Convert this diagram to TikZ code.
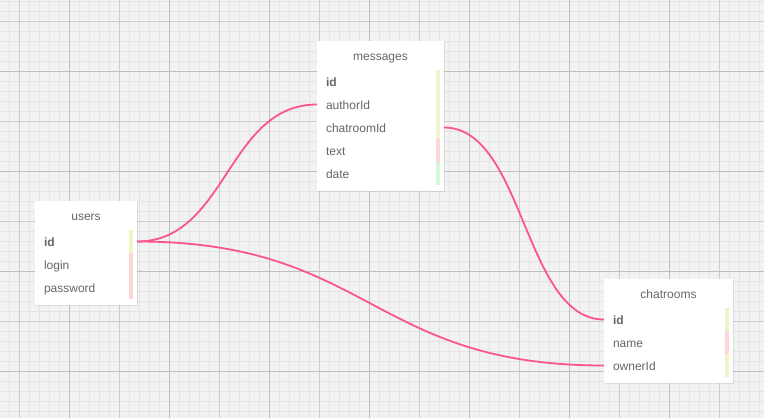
\documentclass[tikz,border=0pt]{standalone}
\usepackage{fontspec}
\setmainfont{Liberation Sans}
\usetikzlibrary{positioning,shadows}
\definecolor{gridbg}{RGB}{242,242,242}
\definecolor{gridminor}{RGB}{228,228,228}
\definecolor{gridmajor}{RGB}{204,204,204}
\definecolor{griddark}{RGB}{190,190,190}
\definecolor{linkpink}{RGB}{250,85,140}
\definecolor{keyyellow}{RGB}{241,243,200}
\definecolor{keypink}{RGB}{253,214,218}
\definecolor{keygreen}{RGB}{214,247,216}
\definecolor{fieldgray}{RGB}{102,102,102}

\begin{document}
\begin{tikzpicture}[
      x=1pt, y=-1pt,
      every node/.style={font=\fontsize{12}{14}\selectfont, text=fieldgray},
      tablebox/.style 2 args={fill=white, anchor=north west, minimum width=#1, minimum height=#2, inner sep=0pt, outer sep=0pt,
        drop shadow={shadow xshift=0.6pt, shadow yshift=-1pt, opacity=0.18}},
      tabletitle/.style={minimum height=29pt, inner sep=0pt, outer sep=0pt, text height=11pt, text depth=1pt},
      field/.style={text width=#1, align=left, inner xsep=9pt, inner ysep=0pt, minimum height=23pt, outer sep=0pt, text height=11pt, text depth=1pt},
      keyfield/.style={field=#1, font=\fontsize{12}{14}\selectfont\bfseries},
      keystrip/.style={fill=#1},
      link/.style={draw=linkpink, line width=1.8pt}
  ]
    \useasboundingbox (0,0) rectangle (764,418);
    % grid paper
    \fill[gridbg] (0,0) rectangle (764,418);
    \foreach \x in {9,19,...,759} \draw[gridminor, line width=1pt] (\x,0) -- (\x,418);
    \foreach \y in {1,11,...,411} \draw[gridminor, line width=1pt] (0,\y) -- (764,\y);
    \foreach \x in {19,119,...,719} \draw[gridmajor, line width=1pt] (\x,0) -- (\x,418);
    \foreach \y in {21,121,...,321} \draw[gridmajor, line width=1pt] (0,\y) -- (764,\y);
    \foreach \x in {69,169,...,669} \draw[griddark, line width=1pt] (\x,0) -- (\x,418);
    \foreach \y in {71,171,...,371} \draw[griddark, line width=1pt] (0,\y) -- (764,\y);

    % users
    \node[tablebox={102pt}{104pt}] (users) at (35,201) {};
    \node[tabletitle, below=0pt of users.north] (users-title) {users};
    \node[keyfield=84pt, below=0pt of users-title] (users-id) {id};
    \node[field=84pt, below=0pt of users-id] (users-login) {login};
    \node[field=84pt, below=0pt of users-login] (users-password) {password};
    \fill[keystrip=keyyellow] ([xshift=-8pt]users-id.north east) rectangle ([xshift=-4pt]users-id.south east);
    \fill[keystrip=keypink] ([xshift=-8pt]users-login.north east) rectangle ([xshift=-4pt]users-password.south east);

    % messages
    \node[tablebox={127pt}{150pt}] (messages) at (317,41) {};
    \node[tabletitle, below=0pt of messages.north] (messages-title) {messages};
    \node[keyfield=109pt, below=0pt of messages-title] (messages-id) {id};
    \node[field=109pt, below=0pt of messages-id] (messages-authorId) {authorId};
    \node[field=109pt, below=0pt of messages-authorId] (messages-chatroomId) {chatroomId};
    \node[field=109pt, below=0pt of messages-chatroomId] (messages-text) {text};
    \node[field=109pt, below=0pt of messages-text] (messages-date) {date};
    \fill[keystrip=keyyellow] ([xshift=-8pt]messages-id.north east) rectangle ([xshift=-4pt]messages-chatroomId.south east);
    \fill[keystrip=keypink] ([xshift=-8pt]messages-text.north east) rectangle ([xshift=-4pt]messages-text.south east);
    \fill[keystrip=keygreen] ([xshift=-8pt]messages-date.north east) rectangle ([xshift=-4pt]messages-date.south east);

    % chatrooms
    \node[tablebox={129pt}{104pt}] (chatrooms) at (604,279) {};
    \node[tabletitle, below=0pt of chatrooms.north] (chatrooms-title) {chatrooms};
    \node[keyfield=111pt, below=0pt of chatrooms-title] (chatrooms-id) {id};
    \node[field=111pt, below=0pt of chatrooms-id] (chatrooms-name) {name};
    \node[field=111pt, below=0pt of chatrooms-name] (chatrooms-ownerId) {ownerId};
    \fill[keystrip=keyyellow] ([xshift=-8pt]chatrooms-id.north east) rectangle ([xshift=-4pt]chatrooms-id.south east);
    \fill[keystrip=keypink] ([xshift=-8pt]chatrooms-name.north east) rectangle ([xshift=-4pt]chatrooms-name.south east);
    \fill[keystrip=keyyellow] ([xshift=-8pt]chatrooms-ownerId.north east) rectangle ([xshift=-4pt]chatrooms-ownerId.south east);

    % relations
    \draw[link] (users-id.east) .. controls +(90,0) and +(-90,0) .. (messages-authorId.west);
    \draw[link] (users-id.east) .. controls +(233,0) and +(-233,0) .. (chatrooms-ownerId.west);
    \draw[link] (messages-chatroomId.east) .. controls +(80,0) and +(-80,0) .. (chatrooms-id.west);
  \end{tikzpicture}
\end{document}
